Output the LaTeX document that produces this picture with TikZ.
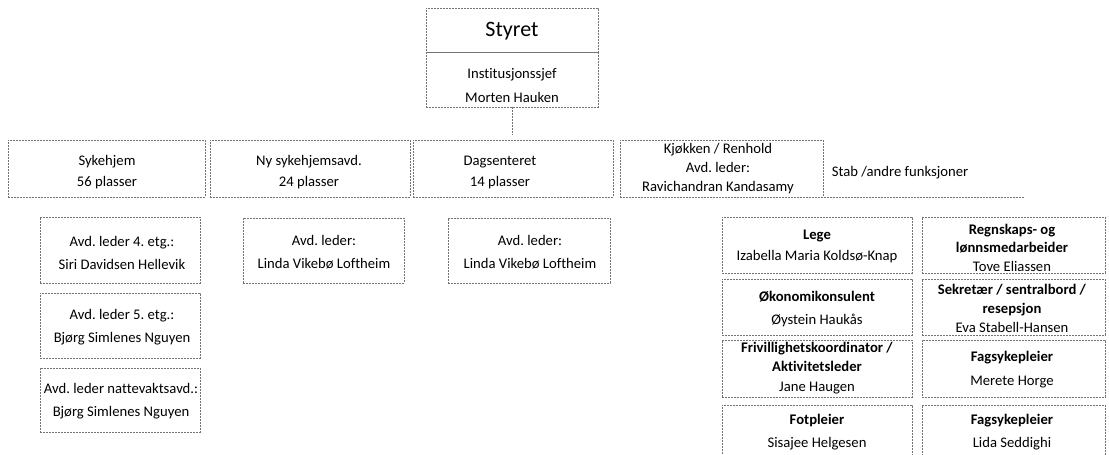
\documentclass[tikz,border=0pt]{standalone}
\usepackage{fontspec}
\setmainfont{Carlito}[Ligatures=NoCommon]
\frenchspacing
\begin{document}
\begin{tikzpicture}[x=1pt,y=-1pt,
  boxline/.style={draw=black!55, line width=0.6pt, dash pattern=on 2pt off 1pt},
  box/.style={boxline, rectangle, inner sep=0pt},
  txt/.style={align=center, inner sep=0pt, font=\frenchspacing\fontsize{14.67}{23}\selectfont},
  txtb/.style={align=center, inner sep=0pt, font=\frenchspacing\fontsize{14.67}{20}\selectfont},
  conn/.style={draw=black!55, line width=0.6pt, dash pattern=on 2pt off 1pt}]
\useasboundingbox (0,0) rectangle (1109,455);
\fill[white] (0,0) rectangle (1109,455);

% top
\node[box, minimum width=172, minimum height=44] (styret) at (512,30) {};
\node[inner sep=0pt, font=\fontsize{22}{26}\selectfont] (styretT) at (512,31) {Styret};
\node[box, minimum width=172, minimum height=55] (inst) at (512,79.5) {};
\node[txt, font=\fontsize{14.67}{24}\selectfont] (instT) at (512,86) {Institusjonssjef\\Morten Hauken};
\coordinate (instEnd) at (512,135);
\draw[conn] (inst.south) -- (instEnd);

% second row
\node[box, minimum width=197, minimum height=57] (syk) at (106.5,168.5) {};
\node[txtb, font=\fontsize{14.67}{21}\selectfont] (sykT) at (107,172.5) {Sykehjem\\56 plasser};
\node[box, minimum width=200, minimum height=57] (ny) at (310,168.5) {};
\node[txtb, font=\fontsize{14.67}{21}\selectfont] (nyT) at (309,172.5) {Ny sykehjemsavd.\\24 plasser};
\node[box, minimum width=200, minimum height=57] (dag) at (513,168.5) {};
\node[txtb, font=\fontsize{14.67}{21}\selectfont] (dagT) at (500,172.5) {Dagsenteret\\14 plasser};
\node[box, minimum width=203, minimum height=57] (kjok) at (721.5,168.5) {};
\node[txtb, font=\fontsize{14.67}{19}\selectfont] (kjokT) at (718,169) {Kjøkken / Renhold\\Avd. leder:\\Ravichandran Kandasamy};
\node[inner sep=0pt, minimum width=200, minimum height=57] (stab) at (924,168.5) {};
\node[txt] (stabT) at (900,173) {Stab /andre funksjoner};
\draw[boxline] (stab.south west) -- (stab.south east);

% Sykehjem sub
\node[box, minimum width=160, minimum height=66] (s1) at (120,250) {};
\node[txt] (s1T) at (122,252.5) {Avd. leder 4. etg.:\\Siri Davidsen Hellevik};
\node[box, minimum width=160, minimum height=65] (s2) at (120,325.5) {};
\node[txt] (s2T) at (122,327.5) {Avd. leder 5. etg.:\\Bjørg Simlenes Nguyen};
\node[box, minimum width=160, minimum height=64] (s3) at (120,400) {};
\node[txt] (s3T) at (121,401.5) {Avd. leder nattevaktsavd.:\\Bjørg Simlenes Nguyen};

% Ny sub
\node[box, minimum width=161, minimum height=65] (n1) at (323.5,250.5) {};
\node[txt] (n1T) at (324,252.5) {Avd. leder:\\Linda Vikebø Loftheim};
% Dag sub
\node[box, minimum width=162, minimum height=65] (d1) at (529,250.5) {};
\node[txt] (d1T) at (530,252.5) {Avd. leder:\\Linda Vikebø Loftheim};

% Stab subs
\node[box, minimum width=190, minimum height=56] (a1) at (817,245) {};
\node[txt, font=\fontsize{14.67}{21}\selectfont] (a1T) at (817,246.5) {\textbf{Lege}\\Izabella Maria Koldsø-Knap};
\node[box, minimum width=183, minimum height=56] (b1) at (1013.5,245) {};
\node[txt, font=\fontsize{14.67}{18.5}\selectfont] (b1T) at (1012,247.5) {\textbf{Regnskaps- og}\\\textbf{lønnsmedarbeider}\\Tove Eliassen};

\node[box, minimum width=190, minimum height=56] (a2) at (817,307) {};
\node[txt] (a2T) at (817,309) {\textbf{Økonomikonsulent}\\Øystein Haukås};
\node[box, minimum width=183, minimum height=56] (b2) at (1013.5,307) {};
\node[txt, font=\fontsize{14.67}{19}\selectfont] (b2T) at (1012,308) {\textbf{Sekretær / sentralbord /}\\\textbf{resepsjon}\\Eva Stabell-Hansen};

\node[box, minimum width=190, minimum height=57] (a3) at (817,368.5) {};
\node[txt, font=\fontsize{14.67}{19.5}\selectfont] (a3T) at (817,368) {\textbf{Frivillighetskoordinator /}\\\textbf{Aktivitetsleder}\\Jane Haugen};
\node[box, minimum width=183, minimum height=57] (b3) at (1013.5,368.5) {};
\node[txt, font=\fontsize{14.67}{24}\selectfont] (b3T) at (1012,370) {\textbf{Fagsykepleier}\\Merete Horge};

\node[box, minimum width=190, minimum height=50] (a4) at (817,430) {};
\node[txt] (a4T) at (817,432) {\textbf{Fotpleier}\\Sisajee Helgesen};
\node[box, minimum width=183, minimum height=50] (b4) at (1013.5,430) {};
\node[txt] (b4T) at (1012,432) {\textbf{Fagsykepleier}\\Lida Seddighi};
\end{tikzpicture}
\end{document}
